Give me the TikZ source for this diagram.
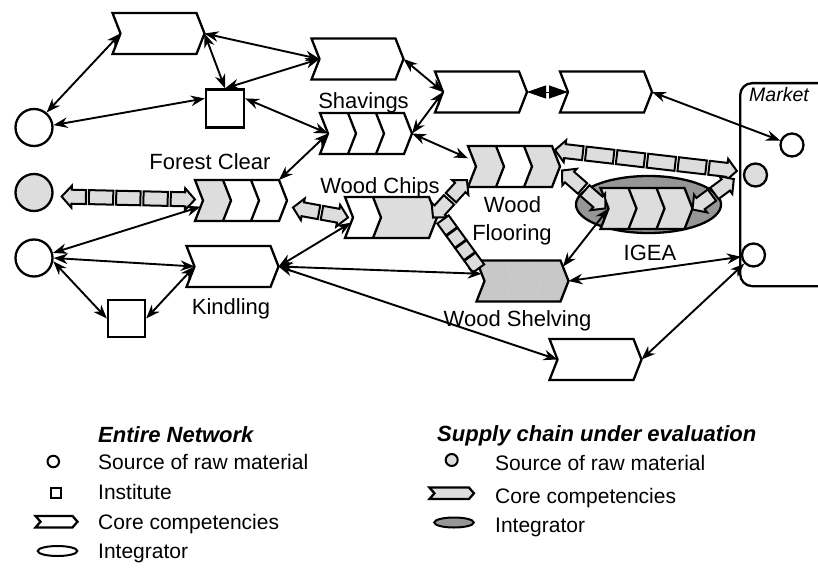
\documentclass[tikz,border=0pt]{standalone}
\usepackage{fontspec}
\setmainfont{Liberation Sans}
\usetikzlibrary{calc,arrows.meta,shapes.geometric}
\definecolor{lgray}{RGB}{221,221,221}
\definecolor{mgray}{RGB}{200,200,200}
\definecolor{dgray}{RGB}{150,150,150}
\newcommand\chW{92}
\newcommand\chH{41}
\newcommand\chD{8}
\newcommand\chevseg[3]{\fill[#3] ({#1*\chS},0) -- ({#2*\chS},0) -- ({#2*\chS+\chD},{\chH/2}) -- ({#2*\chS},\chH) -- ({#1*\chS},\chH) -- ({#1*\chS+\chD},{\chH/2}) -- cycle;}
\newcommand\chevron[7]{%
  \node[chevbox, minimum width=\chW pt, minimum height=\chH pt] (#1) at (#2,#3) {};
  \coordinate (#1-n) at ($(#1.west)+(\chD,0)$);
  \coordinate (#1-t) at (#1.east);
  \coordinate (#1-tr) at ($(#1.north east)+(-\chD,0)$);
  \pgfmathsetmacro\chS{(\chW-\chD)/3}%
  \begin{scope}[shift={(#1.north west)}]
    \chevseg{0}{1}{#4}\chevseg{1}{2}{#5}\chevseg{2}{3}{#6}
    \if\relax\detokenize{#7}\relax\else
      \foreach \k in {#7}{\draw[shapeline] ({\k*\chS},0) -- ({\k*\chS+\chD},{\chH/2}) -- ({\k*\chS},\chH);}
    \fi
    \draw[shapeline] (0,0) -- ({3*\chS},0) -- ({3*\chS+\chD},{\chH/2}) -- ({3*\chS},\chH) -- (0,\chH) -- (\chD,{\chH/2}) -- cycle;
  \end{scope}}
\newcommand\faH{11}
\newcommand\faW{7}
\newcommand\faHL{10}
\newcommand\fatarrow[5]{%
  \path (#1) coordinate (fa-s) (#2) coordinate (fa-e);
  \pgfpointdiff{\pgfpointanchor{fa-s}{center}}{\pgfpointanchor{fa-e}{center}}%
  \pgfgetlastxy{\fadx}{\fady}%
  \pgfmathsetmacro\faL{veclen(\fadx,\fady)}%
  \pgfmathsetmacro\faA{atan2(\fady,\fadx)}%
  \pgfmathsetmacro\faP{(\faL-(#3+1)*#5)/(#3+2)}%
  \pgfmathsetmacro\faQ{\faP+#5}%
  \begin{scope}[shift={(fa-s)}, rotate=\faA, x=1pt, y=1pt]
    \ifnum#4=1
      \draw[fat] (0,0) -- (\faHL,\faH) -- (\faHL,\faW) -- (\faP,\faW) -- (\faP,-\faW) -- (\faHL,-\faW) -- (\faHL,-\faH) -- cycle;
      \draw[fat] ({\faL-\faP},\faW) -- ({\faL-\faHL},\faW) -- ({\faL-\faHL},\faH) -- (\faL,0) -- ({\faL-\faHL},-\faH) -- ({\faL-\faHL},-\faW) -- ({\faL-\faP},-\faW) -- cycle;
    \else
      \draw[fat] (0,-\faW) rectangle (\faP,\faW);
      \draw[fat] ({\faL-\faP},-\faW) rectangle (\faL,\faW);
    \fi
    \ifnum#3>0
      \foreach \i in {1,...,#3}{\draw[fat] ({\i*\faQ},-\faW) rectangle ({\i*\faQ+\faP},\faW);}
    \fi
  \end{scope}}
\tikzset{
  shapeline/.style={draw=black, line width=2.3pt, line join=miter},
  chevbox/.style={rectangle, inner sep=0pt, outer sep=0pt},
  src/.style={circle, draw=black, line width=2.3pt, inner sep=0pt, minimum size=37pt, fill=white},
  inst/.style={rectangle, draw=black, line width=2.3pt, inner sep=0pt, minimum size=38pt, fill=white},
  dbl/.style={line width=1.9pt, {Stealth[length=14pt,width=10.5pt]}-{Stealth[length=14pt,width=10.5pt]}},
  fat/.style={draw=black, line width=2pt, fill=lgray, line join=miter},
  lbl/.style={anchor=base, inner sep=0pt, font=\fontsize{22}{26}\selectfont},
  legt/.style={anchor=base west, inner sep=0pt, font=\fontsize{21}{25}\selectfont},
  legh/.style={anchor=base west, inner sep=0pt, font=\bfseries\itshape\fontsize{22}{26}\selectfont},
}
\begin{document}
\begin{tikzpicture}[x=1pt,y=-1pt]
\useasboundingbox (0,0) rectangle (818,567);
% market
\begin{scope}
  \clip (0,0) rectangle (818,567);
  \node[draw=black, line width=2.3pt, rounded corners=12pt, minimum width=100pt, minimum height=203pt, inner sep=0pt, anchor=north west] (MKT) at (739,82) {};
\end{scope}
\node[anchor=base, inner sep=0pt, font=\itshape\fontsize{19.5}{22}\selectfont] (mktl) at (779,101.7) {Market};
\node[src, minimum size=23pt] (MK1) at (792,145) {};
\node[src, minimum size=23pt, fill=lgray] (MK2) at (755.5,175) {};
\node[src, minimum size=23pt] (MK3) at (753.5,255) {};
% integrator ellipse
\node[ellipse, draw=black, line width=2.3pt, fill=dgray, minimum width=145pt, minimum height=57pt, inner sep=0pt] (IGE) at (648.5,204.5) {};
% sources and institutes
\node[src] (C1) at (34,127.5) {};
\node[src, fill=lgray] (C2) at (34,192.5) {};
\node[src] (C3) at (34,258) {};
\node[inst] (S1) at (225,108.5) {};
\node[inst, minimum size=37pt] (S2) at (126.5,318.5) {};
% chevrons
\chevron{A}{158.5}{33.5}{white}{white}{white}{}
\chevron{B}{357.5}{59}{white}{white}{white}{}
\chevron{Shav}{366}{133.5}{white}{white}{white}{1,2}
\chevron{D}{481}{92}{white}{white}{white}{}
\chevron{E}{606}{92}{white}{white}{white}{}
\chevron{FC}{241}{200.5}{lgray}{white}{white}{1,2}
\chevron{K}{232.5}{266.5}{white}{white}{white}{}
\chevron{WC}{391}{217.5}{white}{lgray}{lgray}{1}
\chevron{WF}{514}{166.5}{lgray}{white}{lgray}{1,2}
\chevron{IG}{646.5}{208.5}{lgray}{lgray}{lgray}{1,2}
\chevron{WS}{522.5}{281}{mgray}{mgray}{mgray}{}
\chevron{F}{595.5}{359.5}{white}{white}{white}{}
% fat arrows
\fatarrow{$(C2.east)+(8,4)$}{$(FC-n)+(-8,-1)$}{3}{1}{3}
\fatarrow{$(FC-t)+(6,7)$}{$(WC-n)+(-5,0)$}{0}{1}{3}
\fatarrow{$(WC-t)+(-4,0)$}{$(WF.south west)+(-1,-7)$}{0}{1}{3}
\fatarrow{$(WF-tr)+(3,4)$}{$(MK2.west)+(-6,-4)$}{4}{1}{3}
\fatarrow{$(WF-t)+(2,4)$}{$(IG-n)+(-3,0)$}{0}{1}{3}
\fatarrow{$(IG-t)+(0,1)$}{$(MK2.west)+(-9,4)$}{0}{1}{3}
\fatarrow{$(WC-t)+(6,2)$}{$(WS.north west)+(2,8)$}{2}{0}{0.8}
% thin arrows
\draw[dbl] (C1.50) -- (A-n);
\draw[dbl] (C1.7) -- ($(S1.north west)!0.25!(S1.south west)$);
\draw[dbl] (A-t) -- (B-n);
\draw[dbl] (A-t) -- (S1.north);
\draw[dbl] (S1.north) -- (B-n);
\draw[dbl] ($(S1.north east)!0.25!(S1.south east)$) -- (Shav-n);
\draw[dbl] (Shav-n) -- (FC-tr);
\draw[dbl] (B-t) -- (D-n);
\draw[dbl] (Shav-t) -- (D-n);
\draw[dbl] (Shav-t) -- ($(WF.north west)!0.3!(WF.south west)$);
\draw[dbl] (E-t) -- (MK1);
\draw[dbl] (C3.15) -- ($(FC-n)!0.3!(FC.south west)$);
\draw[dbl] (C3.east) -- (K-n);
\draw[dbl] (C3.-10) -- (S2.west);
\draw[dbl] (S2.east) -- (K-n);
\draw[dbl] (K-t) -- ($(WC-n)!0.25!(WC.south west)$);
\draw[dbl] (K-t) -- ($(WS-n)!0.35!(WS.north west)$);
\draw[dbl] (K-t) -- (F-n);
\draw[dbl] (IG-n) -- ($(WS-tr)!0.3!(WS-t)$);
\draw[dbl] (WS-t) -- (MK3);
\draw[dbl] (F-t) -- (MK3);
\draw[line width=0.8pt, {Triangle[length=19pt,width=13pt]}-{Triangle[length=19pt,width=13pt]}] (D-t) -- (E-n);
\draw[white, line width=1.4pt, dash pattern=on 1.4pt off 1.4pt] ($(D-t)!0.5!(E-n)+(0,-5)$) -- ($(D-t)!0.5!(E-n)+(0,5)$);
% labels
\node[lbl] (lShav) at (363.5,109) {Shavings};
\node[lbl] (lFC) at (210,169.3) {Forest Clear};
\node[lbl] (lWC) at (380,193.3) {Wood Chips};
\node[lbl] (lWF1) at (512.5,212.7) {Wood};
\node[lbl] (lWF2) at (512,240) {Flooring};
\node[lbl] (lK) at (231,314) {Kindling};
\node[lbl] (lIG) at (650,260) {IGEA};
\node[lbl] (lWS) at (517.5,326.7) {Wood Shelving};
% legend left
\node[legh] (h1) at (98,442.5) {Entire Network};
\node[circle, draw=black, line width=2pt, minimum size=11.5pt, inner sep=0pt] (ls1) at (53.3,461.5) {};
\node[legt] (lt1) at (98,469) {Source of raw material};
\node[rectangle, draw=black, line width=2pt, minimum size=10pt, inner sep=0pt] (ls2) at (56,492.5) {};
\node[legt] (lt2) at (98,499.5) {Institute};
\renewcommand\chW{42}\renewcommand\chH{11.5}\renewcommand\chD{5}
\chevron{lc1}{56.5}{521.7}{white}{white}{white}{}
\node[legt] (lt3) at (98,529.5) {Core competencies};
\node[ellipse, draw=black, line width=2pt, minimum width=39.5pt, minimum height=10pt, inner sep=0pt] (ls4) at (57.5,551) {};
\node[legt] (lt4) at (98,558) {Integrator};
% legend right
\node[legh] (h2) at (437,441) {Supply chain under evaluation};
\node[circle, draw=black, line width=2pt, fill=lgray, minimum size=12pt, inner sep=0pt] (rs1) at (451.7,460) {};
\node[legt] (rt1) at (495,470) {Source of raw material};
\renewcommand\chW{44.5}\renewcommand\chH{11.5}\renewcommand\chD{5}
\chevron{lc2}{451.7}{493.3}{lgray}{lgray}{lgray}{}
\node[legt] (rt2) at (495,503) {Core competencies};
\node[ellipse, draw=black, line width=2pt, fill=dgray, minimum width=39.5pt, minimum height=10pt, inner sep=0pt] (rs3) at (454,522.5) {};
\node[legt] (rt3) at (495,532) {Integrator};
\end{tikzpicture}
\end{document}
